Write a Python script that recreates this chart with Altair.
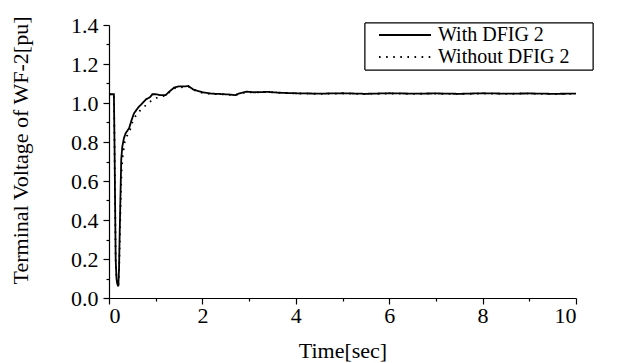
import altair as alt
import pandas as pd

# ---- data ----
with_t = [0.0, 0.105, 0.11, 0.12, 0.13, 0.143, 0.16, 0.18, 0.20, 0.215, 0.229, 0.25, 0.262,
          0.285, 0.32, 0.357, 0.40, 0.43, 0.48, 0.535, 0.62, 0.71, 0.80, 0.88, 0.93, 1.00,
          1.10, 1.21, 1.30, 1.40, 1.50, 1.62, 1.70, 1.80, 1.90, 2.00, 2.20, 2.40, 2.60,
          2.70, 2.80, 2.95, 3.10, 3.40, 3.70, 4.00, 4.50, 5.00, 5.50, 6.00, 6.50, 7.00,
          7.50, 8.00, 8.50, 9.00, 9.50, 10.0]
with_v = [1.045, 1.045, 0.95, 0.75, 0.50, 0.20, 0.10, 0.07, 0.06, 0.15, 0.33, 0.57, 0.71,
          0.776, 0.82, 0.845, 0.86, 0.87, 0.91, 0.947, 0.975, 0.998, 1.02, 1.03, 1.045, 1.045,
          1.04, 1.04, 1.06, 1.08, 1.085, 1.085, 1.087, 1.07, 1.062, 1.055, 1.048, 1.046, 1.043,
          1.040, 1.05, 1.058, 1.055, 1.057, 1.052, 1.05, 1.048, 1.05, 1.047, 1.05, 1.048, 1.049,
          1.047, 1.05, 1.048, 1.049, 1.047, 1.048]

without_t = [0.0, 0.105, 0.11, 0.12, 0.13, 0.143, 0.16, 0.18, 0.20, 0.215, 0.23, 0.25, 0.27,
             0.29, 0.31, 0.33, 0.38, 0.43, 0.50, 0.57, 0.64, 0.735, 0.80, 0.90, 0.964, 1.05,
             1.15, 1.21, 1.30, 1.40, 1.50, 1.62, 1.70, 1.80, 1.90, 2.00, 2.20, 2.40, 2.60,
             2.70, 2.80, 2.95, 3.10, 3.40, 3.70, 4.00, 4.50, 5.00, 5.50, 6.00, 6.50, 7.00,
             7.50, 8.00, 8.50, 9.00, 9.50, 10.0]
without_v = [1.045, 1.045, 0.95, 0.75, 0.50, 0.20, 0.10, 0.07, 0.06, 0.13, 0.28, 0.50, 0.65,
             0.72, 0.754, 0.794, 0.83, 0.845, 0.90, 0.933, 0.955, 0.978, 0.99, 1.01, 1.018, 1.03,
             1.035, 1.036, 1.058, 1.075, 1.08, 1.082, 1.085, 1.068, 1.06, 1.052, 1.046, 1.045, 1.042,
             1.040, 1.048, 1.056, 1.054, 1.056, 1.051, 1.049, 1.047, 1.049, 1.046, 1.049, 1.047, 1.048,
             1.046, 1.049, 1.047, 1.048, 1.046, 1.047]

series_names = ["With DFIG 2", "Without DFIG 2"]
x_ticks = [0, 1, 2, 3, 4, 5, 6, 7, 8, 9, 10]
y_ticks = [0.0, 0.1, 0.2, 0.3, 0.4, 0.5, 0.6, 0.7, 0.8, 0.9, 1.0, 1.1, 1.2, 1.3, 1.4]

df = pd.concat([
    pd.DataFrame({"t": with_t, "v": with_v, "s": series_names[0], "o": range(len(with_t))}),
    pd.DataFrame({"t": without_t, "v": without_v, "s": series_names[1], "o": range(len(without_t))}),
])

FONT = "Liberation Serif"
DASH = alt.Scale(domain=series_names, range=[[1, 0], [1.6, 5.5]])

lines = alt.Chart(df).mark_line(color="black", strokeWidth=1.8).encode(
    x=alt.X("t:Q", scale=alt.Scale(domain=[0, 10], nice=False),
            axis=alt.Axis(title="Time[sec]", values=x_ticks,
                          labelExpr="datum.value % 2 == 0 ? datum.label : ''",
                          tickSize={"condition": {"test": "datum.value % 2 != 0", "value": 3}, "value": 6},
                          labelPadding=1, titleY=52, titleBaseline="middle",
                          grid=False)),
    y=alt.Y("v:Q", scale=alt.Scale(domain=[0, 1.4], nice=False),
            axis=alt.Axis(title="Terminal Voltage of WF-2[pu]", values=y_ticks, format=".1f",
                          labelExpr="round(datum.value*10) % 2 == 0 ? datum.label : ''",
                          tickSize={"condition": {"test": "round(datum.value*10) % 2 != 0", "value": 3}, "value": 6},
                          labelPadding=5, titleX=-89, titleY=125, titleBaseline="middle",
                          titleFontSize=22, grid=False)),
    strokeDash=alt.StrokeDash("s:N", scale=DASH, legend=None),
    order="o:Q",
)

# ---- legend built from the series names ----
legend_df = pd.DataFrame({"s": series_names, "ly": [10, 32]})
legend_box = alt.Chart(legend_df).mark_rect(fill="white", stroke="black", strokeWidth=1).encode(
    x=alt.value(256), x2=alt.value(484), y=alt.value(-2), y2=alt.value(45)
)
legend_lines = alt.Chart(legend_df).mark_rule(color="black", strokeWidth=1.8).encode(
    x=alt.value(270), x2=alt.value(322),
    y=alt.Y("ly:Q", scale=None),
    strokeDash=alt.StrokeDash("s:N", scale=DASH, legend=None),
)
legend_text = alt.Chart(legend_df).mark_text(
    align="left", baseline="middle", font=FONT, fontSize=20, color="black"
).encode(
    x=alt.value(329), y=alt.Y("ly:Q", scale=None), text="s:N"
)

chart = alt.layer(lines, legend_box, legend_lines, legend_text).properties(
    width=467, height=273,
    padding={"left": 109, "top": 25, "right": 47, "bottom": 65},
    autosize=alt.AutoSizeParams(type="none"),
    background="white",
).configure_view(stroke=None).configure_axis(
    labelFont=FONT, labelFontSize=22, labelColor="black",
    titleFont=FONT, titleFontSize=22, titleFontWeight="normal", titleColor="black",
    domainColor="black", tickColor="black", domainWidth=1.2, tickWidth=1.2,
)

chart.save("out.html", embed_options={"renderer": "svg", "actions": False})
